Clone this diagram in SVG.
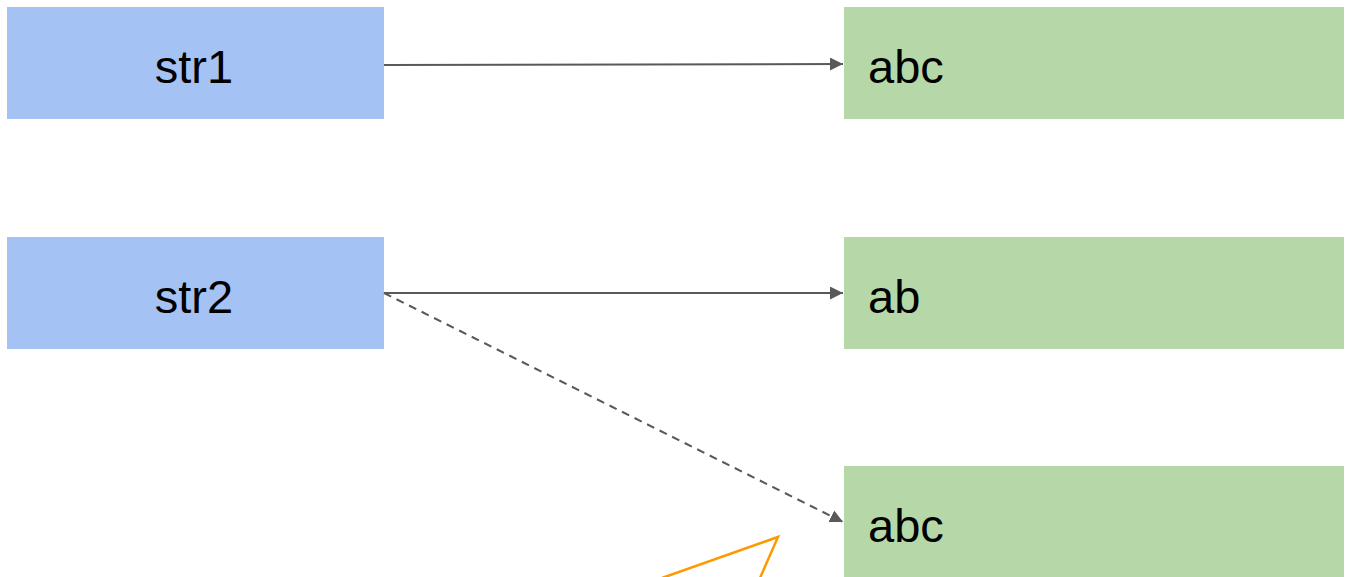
<svg xmlns="http://www.w3.org/2000/svg" width="1353" height="577" viewBox="0 0 1353 577">
<style>
.ptr{fill:#a4c2f4}
.val{fill:#b6d7a8}
.lbl{font-family:"Liberation Sans",Arial,sans-serif;font-size:47px;fill:#000}
.c{stroke:#595959;stroke-width:2;fill:none}
</style>
<defs>
<marker id="ah" viewBox="0 0 10 10" refX="10" refY="5" markerWidth="13" markerHeight="13" markerUnits="userSpaceOnUse" orient="auto">
<path d="M0,0 L10,5 L0,10 Z" fill="#595959"/>
</marker>
</defs>
<rect width="1353" height="577" fill="#fff"/>
<g id="str1"><rect class="ptr" x="7" y="7" width="377" height="112"/><text class="lbl" x="194" y="83" text-anchor="middle">str1</text></g>
<g id="str2"><rect class="ptr" x="7" y="237" width="377" height="112"/><text class="lbl" x="194" y="313" text-anchor="middle">str2</text></g>
<g id="v1"><rect class="val" x="844" y="7" width="500" height="112"/><text class="lbl" x="868" y="83">abc</text></g>
<g id="v2"><rect class="val" x="844" y="237" width="500" height="112"/><text class="lbl" x="868" y="313">ab</text></g>
<g id="v3"><rect class="val" x="844" y="466" width="500" height="112"/><text class="lbl" x="868" y="542">abc</text></g>
<g id="connectors">
<line class="c" x1="384" y1="65" x2="843" y2="64" marker-end="url(#ah)"/>
<line class="c" x1="384" y1="293" x2="843" y2="293" marker-end="url(#ah)"/>
<line class="c" x1="384" y1="293" x2="843" y2="522" stroke-dasharray="8,6" marker-end="url(#ah)"/>
</g>
<polyline points="662,578 778,537 760,578" fill="none" stroke="#ff9900" stroke-width="2.5"/>
</svg>
